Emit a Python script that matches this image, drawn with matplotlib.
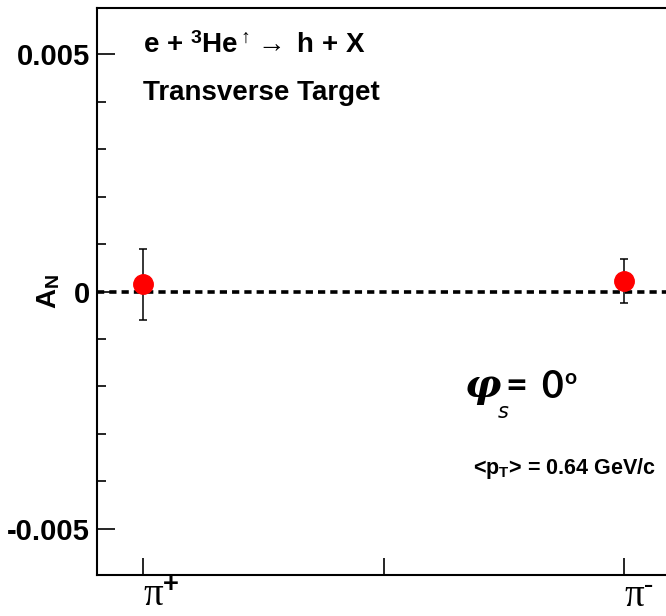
import numpy as np
import matplotlib.pyplot as plt

plt.rcParams['mathtext.fontset'] = 'custom'
plt.rcParams['mathtext.rm'] = 'Liberation Serif'
plt.rcParams['mathtext.it'] = 'Liberation Serif:italic'
plt.rcParams['mathtext.bf'] = 'Liberation Sans:bold'
plt.rcParams['font.family'] = ['Liberation Sans', 'DejaVu Sans']

# data
hadrons = [r'$\mathrm{\pi}^{\mathbf{+}}$', r'$\mathrm{\pi}^{\text{-}}$']
xpos = [1, 2]
asym = [0.00015, 0.00022]
asym_err = [0.00074, 0.00046]
yticks = [-0.005, 0, 0.005]
ytick_labels = ['-0.005', '0', '0.005']

W, H = 666, 616
def px(x, y):
    # pixel position (from top left) -> figure fraction
    return x / W, 1 - y / H

fig = plt.figure(figsize=(W / 100, H / 100), dpi=100)
ax = fig.add_axes([97 / W, 41 / H, 573 / W, 567 / H])

ax.axhline(0, color='black', ls=(0, (2, 1.4)), lw=2.6, zorder=1)
ax.errorbar(xpos, asym, yerr=asym_err, fmt='o', color='red', mec='red', ms=14,
            ecolor='black', elinewidth=1.1, capsize=3, capthick=1.1, zorder=3)

ax.set_xlim(0.9044, 2.0956)
ax.set_ylim(-0.00597, 0.00597)

ax.set_xticks([1, 1.5, 2], [hadrons[0], '', hadrons[1]])
for lbl in ax.get_xticklabels():
    lbl.set_ha('left')
ax.tick_params(axis='x', direction='in', length=12.5, width=1.2, labelsize=28, pad=2)

ax.set_yticks(yticks, ytick_labels, fontweight='bold')
ax.set_yticks(np.arange(-0.005, 0.0055, 0.001), minor=True)
ax.tick_params(axis='y', which='major', direction='in', length=13, width=1.2, labelsize=21, pad=5)
ax.tick_params(axis='y', which='minor', direction='in', length=6.5, width=1.2)
for s in ax.spines.values():
    s.set_linewidth(1.5)

ax.set_ylabel(r'$\mathbf{A}_{\mathbf{N}}$', fontsize=20)
ax.yaxis.set_label_coords(-0.061, 0.5)

fig.text(*px(143, 53), r'e + $^{\mathbf{3}}$He$^{\uparrow}\rightarrow$ h + X',
         fontsize=20, fontweight='bold', va='baseline')
fig.text(*px(143, 100), 'Transverse Target', fontsize=20, fontweight='bold', va='baseline')
fig.text(*px(656, 474), r'<p$_{\mathbf{T}}$> = 0.64 GeV/c', fontsize=15.5,
         fontweight='bold', va='baseline', ha='right')

fig.text(*px(465, 397), 'φ', family='DejaVu Serif', style='italic', fontweight='bold',
         fontsize=29, va='baseline')
fig.text(*px(498, 418), 's', family='DejaVu Sans', style='italic', fontsize=15, va='baseline')
fig.text(*px(505, 398), '=', family='Lato', fontweight='bold', fontsize=27, va='baseline')
fig.text(*px(541, 398), '0', family='Lato', fontweight='bold', fontsize=27, va='baseline')
fig.text(*px(564, 384), 'o', family='Lato', fontweight='bold', fontsize=15, va='baseline')

fig.savefig('out.png', dpi=100)
